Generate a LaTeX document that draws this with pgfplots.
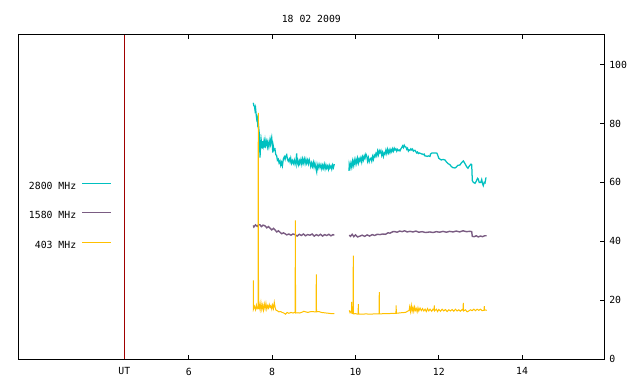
\documentclass[border=0pt]{standalone}
\usepackage{pgfplots}
\pgfplotsset{compat=1.18}
\usepackage{fontspec}
\setmainfont{DejaVu Sans Mono}
\definecolor{c2800}{RGB}{0,192,192}
\definecolor{c1580}{RGB}{122,92,130}
\definecolor{c403}{RGB}{255,192,0}
\definecolor{utred}{RGB}{160,0,0}
\begin{document}
\fontsize{9.8bp}{11bp}\selectfont
\begin{tikzpicture}[x=1bp,y=1bp]
\useasboundingbox (0,0) rectangle (640,384);
\begin{axis}[
  at={(18.3bp,24.7bp)}, anchor=south west,
  scale only axis, width=586bp, height=324.3bp,
  xmin=1.904, xmax=15.974, ymin=0, ymax=110,
  unbounded coords=jump,
  /pgf/number format/assume math mode=true,
  font=\fontsize{9.8bp}{11bp}\selectfont,
  xtick={4.45,6,8,10,12,14}, xticklabels={UT,6,8,10,12,14},
  ytick={0,20,40,60,80,100},
  ytick pos=right, yticklabel pos=right,
  tick align=inside, major tick length=4.5bp,
  tick style={black, line width=0.9bp},
  axis line style={line width=1bp},
  xticklabel style={yshift=-5bp},
  yticklabel style={xshift=1.5bp},
  title={18 02 2009},
  title style={at={(0.5,1)}, anchor=base, yshift=7bp},
  legend style={draw=none, fill=none, at={(0.165,0.441)}, anchor=east,
    legend cell align=right, row sep=20.5bp,
    nodes={inner sep=0pt, text height=7bp, text depth=2bp},
    /tikz/every odd column/.style={column sep=5.5bp}},
  legend plot pos=right,
  legend image code/.code={\draw[#1, line width=1.1bp] (0bp,3.5bp) -- (29bp,3.5bp);},
]
\addplot[utred, line width=0.9bp, forget plot] coordinates {(4.45,0) (4.45,110)};
% 2800 MHz
\addplot[c2800, line width=1.25bp] coordinates {
(7.546,87.0) (7.560,86.0) (7.575,85.8) (7.587,84.5) (7.600,85.3) (7.615,83.0)
(7.628,81.5) (7.640,82.0) (7.652,79.7) (7.665,80.5) (7.683,77.5) (7.695,76.0)
(7.707,68.4) (7.720,72.0) (7.735,74.5) (7.748,73.0) (7.760,71.5) (7.775,74.0)
(7.786,72.5) (7.800,73.8) (7.815,71.8) (7.830,74.2) (7.845,72.6) (7.868,74.0)
(7.885,72.2) (7.900,73.6) (7.920,72.0) (7.947,74.5) (7.960,73.0) (7.988,75.2)
(8.000,73.2) (8.015,70.1) (8.026,72.4) (8.045,71.0) (8.067,71.3) (8.085,69.5)
(8.108,69.0) (8.125,67.5) (8.146,67.9) (8.165,66.6) (8.187,67.3) (8.205,65.8)
(8.225,66.8) (8.245,65.6) (8.267,67.9) (8.290,68.7) (8.310,67.8) (8.330,69.0)
(8.348,69.4) (8.365,68.0) (8.385,67.2) (8.410,68.0) (8.427,67.0) (8.445,68.2)
(8.465,66.5) (8.485,67.4) (8.507,66.4) (8.530,67.6) (8.550,66.2) (8.570,67.2)
(8.588,69.8) (8.595,66.3) (8.615,67.5) (8.635,66.0) (8.655,67.2) (8.667,66.4)
(8.690,67.8) (8.710,66.2) (8.730,67.9) (8.747,66.6) (8.770,68.0) (8.790,66.4)
(8.810,67.8) (8.828,66.5) (8.850,67.6) (8.870,66.3) (8.890,67.7) (8.907,66.8)
(8.925,65.4) (8.945,66.6) (8.965,65.4) (8.987,66.8) (9.005,65.2) (9.025,66.5)
(9.045,65.0) (9.068,63.6) (9.080,66.0) (9.100,64.8) (9.125,66.2) (9.148,65.0)
(9.170,66.0) (9.190,64.6) (9.210,65.8) (9.227,64.8) (9.250,66.2) (9.270,64.6)
(9.290,65.9) (9.308,64.8) (9.330,65.6) (9.350,64.4) (9.370,65.8) (9.387,64.9)
(9.410,65.6) (9.430,64.5) (9.450,65.9) (9.470,65.0) (9.491,66.2)
(9.65,nan)
(9.844,63.9) (9.850,66.2) (9.870,65.0) (9.890,66.6) (9.910,65.2) (9.930,67.2)
(9.947,65.8) (9.970,67.6) (9.988,66.2) (10.010,67.8) (10.029,66.5) (10.050,68.2)
(10.070,66.6) (10.090,68.0) (10.108,67.2) (10.130,68.4) (10.150,66.9) (10.170,68.6)
(10.190,67.6) (10.210,69.0) (10.228,68.2) (10.250,69.6) (10.269,69.0) (10.290,67.2)
(10.310,68.4) (10.330,67.0) (10.348,67.8) (10.370,68.2) (10.390,67.2) (10.410,68.8)
(10.430,67.8) (10.450,69.2) (10.468,68.7) (10.490,69.8) (10.510,69.0) (10.530,70.6)
(10.550,69.4) (10.570,70.8) (10.588,70.1) (10.610,70.8) (10.630,69.2) (10.650,70.2)
(10.670,68.8) (10.690,70.0) (10.708,69.6) (10.730,71.0) (10.750,69.8) (10.770,71.2)
(10.790,70.0) (10.810,71.0) (10.828,70.1) (10.850,71.2) (10.870,70.4) (10.890,71.4)
(10.910,70.6) (10.930,71.6) (10.948,71.0) (10.970,71.4) (10.990,70.6) (11.010,71.2)
(11.030,70.8) (11.050,71.0) (11.068,70.7) (11.090,71.4) (11.110,71.8) (11.130,72.4)
(11.150,71.8) (11.170,72.6) (11.188,72.1) (11.210,72.0) (11.230,71.2) (11.250,71.6)
(11.270,70.6) (11.290,71.0) (11.308,70.9) (11.330,71.4) (11.350,71.0) (11.370,71.3)
(11.390,70.6) (11.410,70.8) (11.428,70.9) (11.450,70.4) (11.470,70.0) (11.490,70.3)
(11.510,69.8) (11.530,70.0) (11.548,69.9) (11.570,69.8) (11.590,69.6) (11.610,69.6)
(11.630,69.4) (11.650,69.6) (11.668,69.0) (11.690,69.0) (11.720,68.8) (11.750,69.0)
(11.788,68.8) (11.800,69.6) (11.836,70.0) (11.880,70.0) (11.920,70.0) (11.956,69.9)
(11.980,69.0) (12.000,68.2) (12.028,67.9) (12.060,67.6) (12.100,67.8) (12.149,67.6)
(12.180,67.0) (12.220,66.4) (12.269,66.0) (12.300,65.4) (12.340,65.0) (12.389,64.9)
(12.420,65.2) (12.460,65.8) (12.509,65.9) (12.540,66.6) (12.588,67.3) (12.620,66.6)
(12.670,65.3) (12.700,64.8) (12.730,65.5) (12.773,66.2) (12.790,66.0) (12.805,60.6)
(12.830,60.0) (12.869,59.7) (12.900,60.4) (12.930,61.4) (12.949,61.1) (12.970,60.0)
(13.006,60.0) (13.030,61.0) (13.050,59.6) (13.068,58.9) (13.090,60.0) (13.110,59.8)
(13.133,61.7)
};
\addlegendentry{2800 MHz}
% 1580 MHz
\addplot[c1580, line width=1.4bp] coordinates {
(7.546,45.4) (7.560,44.9) (7.600,45.6) (7.640,45.1) (7.680,45.7) (7.707,45.6)
(7.740,45.0) (7.780,45.5) (7.827,45.3) (7.870,44.6) (7.910,45.0) (7.947,44.5)
(7.990,43.9) (8.030,44.4) (8.067,43.9) (8.110,43.2) (8.150,43.6) (8.187,43.1)
(8.230,42.6) (8.270,42.9) (8.307,42.6) (8.350,42.2) (8.400,42.5) (8.450,42.1)
(8.500,42.5) (8.547,42.3) (8.600,41.8) (8.650,42.4) (8.700,42.0) (8.750,42.5)
(8.800,41.9) (8.850,42.3) (8.907,42.1) (8.960,42.5) (9.010,41.8) (9.060,42.3)
(9.110,41.9) (9.160,42.4) (9.210,41.8) (9.260,42.3) (9.310,42.0) (9.360,42.4)
(9.410,41.9) (9.460,42.3) (9.491,42.1)
(9.65,nan)
(9.851,42.1) (9.880,41.7) (9.920,42.4) (9.960,41.6) (10.000,42.2) (10.050,41.5)
(10.108,41.8) (10.160,42.1) (10.220,41.7) (10.280,42.2) (10.340,41.8) (10.400,42.3)
(10.460,42.0) (10.520,42.4) (10.588,42.3) (10.650,42.5) (10.720,42.4) (10.780,42.9)
(10.828,42.8) (10.900,43.3) (10.948,43.3) (11.000,43.1) (11.060,43.5) (11.120,43.3)
(11.180,43.6) (11.240,43.2) (11.308,43.4) (11.380,43.2) (11.450,43.5) (11.520,43.1)
(11.600,43.3) (11.680,43.0) (11.788,43.2) (11.860,43.0) (11.940,43.3) (12.020,43.1)
(12.100,43.4) (12.180,43.1) (12.260,43.4) (12.340,43.2) (12.420,43.5) (12.500,43.2)
(12.580,43.6) (12.660,43.3) (12.749,43.4) (12.790,43.3) (12.804,41.7) (12.850,41.6)
(12.900,41.9) (12.950,41.5) (13.000,41.8) (13.050,41.6) (13.100,41.9) (13.150,41.9)
};
\addlegendentry{1580 MHz}
% 403 MHz
\addplot[c403, line width=1bp] coordinates {
(7.546,17.2) (7.546,26.8) (7.550,17.0) (7.575,18.0) (7.600,16.8) (7.620,18.4)
(7.640,17.2) (7.660,17.6) (7.666,83.6) (7.672,17.0) (7.690,18.6) (7.710,16.8)
(7.730,19.2) (7.750,16.9) (7.770,18.4) (7.790,16.7) (7.810,18.8) (7.830,17.2)
(7.850,19.0) (7.870,17.0) (7.890,18.2) (7.910,17.4) (7.930,18.6) (7.950,17.6)
(7.970,18.2) (7.990,17.0) (8.010,18.4) (8.030,17.2) (8.050,19.3) (8.070,17.6)
(8.090,16.7) (8.120,16.5) (8.160,16.1) (8.200,16.2) (8.240,15.9) (8.280,15.7)
(8.320,15.3) (8.360,15.9) (8.400,15.6) (8.450,15.9) (8.500,15.7) (8.540,15.9)
(8.551,15.8) (8.556,47.1) (8.561,15.7) (8.620,15.8) (8.660,15.7) (8.720,16.0)
(8.760,16.3) (8.800,16.1) (8.860,15.9) (8.900,16.1) (8.960,16.2) (9.020,16.1)
(9.054,16.1) (9.059,28.8) (9.064,16.1) (9.120,16.2) (9.180,15.9) (9.240,15.8)
(9.300,15.7) (9.360,15.6) (9.420,15.5) (9.491,15.5)
(9.65,nan)
(9.851,16.6) (9.870,15.8) (9.890,16.2) (9.903,16.0) (9.908,19.5) (9.913,15.6)
(9.942,15.5) (9.947,35.2) (9.952,15.4) (10.000,15.5) (10.050,15.3) (10.063,15.3)
(10.068,18.7) (10.073,15.3) (10.150,15.3) (10.250,15.4) (10.350,15.3) (10.450,15.4)
(10.566,15.4) (10.571,22.8) (10.576,15.4) (10.700,15.5) (10.800,15.5) (10.900,15.6)
(10.971,15.6) (10.976,18.3) (10.981,15.6) (11.100,15.8) (11.200,15.9)
(11.288,16.6) (11.300,17.8) (11.320,16.2) (11.340,18.3) (11.360,16.3) (11.380,17.6)
(11.400,16.2) (11.420,17.8) (11.440,16.6) (11.460,17.2) (11.480,16.1) (11.500,17.5)
(11.520,16.4) (11.550,17.4) (11.580,16.5) (11.610,17.2) (11.640,16.4) (11.670,17.0)
(11.700,16.2) (11.730,17.2) (11.760,16.4) (11.790,17.0) (11.830,16.3) (11.860,17.0)
(11.887,16.6) (11.892,18.3) (11.897,16.4) (11.940,17.0) (11.970,16.2) (12.000,16.9)
(12.040,16.3) (12.080,17.0) (12.120,16.4) (12.160,16.9) (12.200,16.2) (12.240,16.8)
(12.280,16.4) (12.320,16.9) (12.360,16.3) (12.400,17.0) (12.440,16.4) (12.480,16.8)
(12.520,16.3) (12.560,16.9) (12.583,16.6) (12.588,19.1) (12.593,16.4) (12.640,16.8)
(12.680,16.1) (12.720,16.4) (12.760,16.8) (12.800,16.5) (12.840,17.0) (12.880,16.5)
(12.920,17.0) (12.960,16.6) (13.000,17.0) (13.040,16.5) (13.087,16.6) (13.092,18.0)
(13.097,16.8) (13.150,16.6)
};
\addlegendentry{403 MHz}
\end{axis}
\end{tikzpicture}
\end{document}
